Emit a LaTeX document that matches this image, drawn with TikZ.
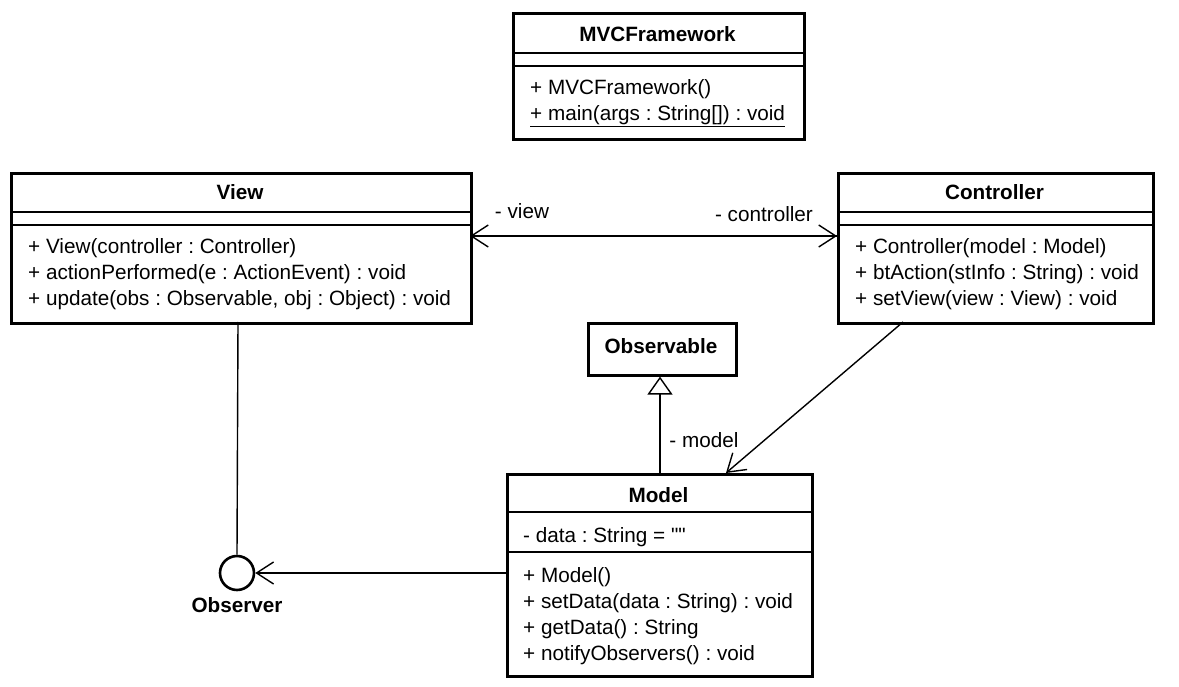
\documentclass[tikz,border=0pt]{standalone}
\usepackage{fontspec}
\setmainfont{Liberation Sans}[Ligatures=TeXOff]
\usetikzlibrary{arrows.meta}
\frenchspacing
\tikzset{
  umlbox/.style={draw, line width=2.6pt, anchor=north west, inner sep=0pt},
  sep/.style={line width=1.3pt},
  conn/.style={line width=1.4pt},
  ttl/.style={font=\fontsize{20.7}{23}\selectfont\bfseries, inner sep=0pt, anchor=base},
  mem/.style={font=\fontsize{20.7}{23}\selectfont, anchor=base west, inner sep=0pt},
  lbl/.style={font=\fontsize{20.7}{23}\selectfont, inner sep=0pt, anchor=base},
  barb/.style={-{Straight Barb[length=17pt,width=22pt,line width=1.4pt]}},
  gen/.style={-{Triangle[open,length=18pt,width=25pt,line width=1.4pt,fill=white]}}
}
\begin{document}
\begin{tikzpicture}[x=1pt,y=-1pt]
\useasboundingbox (0,0) rectangle (1179,687);

% MVCFramework
\node[umlbox, minimum width=291pt, minimum height=126pt] (mvc) at (512,12) {};
\draw[sep] (512,53) -- (803,53);
\draw[sep] (512,66) -- (803,66);
\node[ttl] (mvct) at (657.5,42) {MVCFramework};
\node[mem] (mvc1) at (530,95) {+ MVCFramework()};
\node[mem] (mvc2) at (530,121) {\underline{+ main(args : String[]) : void}};

% View
\node[umlbox, minimum width=460pt, minimum height=150pt] (view) at (10,172) {};
\draw[sep] (10,212) -- (470,212);
\draw[sep] (10,225) -- (470,225);
\node[ttl] (viewt) at (240,200) {View};
\node[mem] (view1) at (28,254) {+ View(controller : Controller)};
\node[mem] (view2) at (28,280) {+ actionPerformed(e : ActionEvent) : void};
\node[mem] (view3) at (28,306) {+ update(obs : Observable, obj : Object) : void};

% Controller
\node[umlbox, minimum width=315pt, minimum height=150pt] (ctrl) at (837,172) {};
\draw[sep] (837,212) -- (1152,212);
\draw[sep] (837,225) -- (1152,225);
\node[ttl] (ctrlt) at (994.5,200) {Controller};
\node[mem] (ctrl1) at (855,254) {+ Controller(model : Model)};
\node[mem] (ctrl2) at (855,280) {+ btAction(stInfo : String) : void};
\node[mem] (ctrl3) at (855,306) {+ setView(view : View) : void};

% Observable
\node[umlbox, minimum width=148pt, minimum height=52pt] (obs) at (587,322) {};
\node[ttl] (obst) at (661,353) {Observable};

% Model
\node[umlbox, minimum width=305pt, minimum height=202pt] (model) at (506,473) {};
\draw[sep] (506,512) -- (811,512);
\draw[sep] (506,552) -- (811,552);
\node[ttl] (modelt) at (658.5,502) {Model};
\node[mem] (model0) at (523,542) {- data : String = ""};
\node[mem] (model1) at (523,582) {+ Model()};
\node[mem] (model2) at (523,608) {+ setData(data : String) : void};
\node[mem] (model3) at (523,634) {+ getData() : String};
\node[mem] (model4) at (523,660) {+ notifyObservers() : void};

% Observer interface (lollipop)
\node[draw, circle, line width=2.6pt, minimum size=34pt, inner sep=0pt] (observer) at (237,573) {};
\node[ttl] (observerl) at (237,612) {Observer};

% Connectors
\coordinate (vA) at (470,236);
\coordinate (cA) at (837,236);
\draw[conn, barb] (cA) -- (vA);
\draw[conn, barb] (vA) -- (cA);
\node[lbl] (lview) at (522,219) {- view};
\node[lbl] (lctrl) at (764,222) {- controller};

\coordinate (vB) at (238,322);
\draw[conn] (vB) -- (observer.north);

\coordinate (mA) at (506,573);
\draw[conn, barb] (mA) -- (observer.east);

\coordinate (mG) at (660,473);
\draw[conn, gen] (mG) -- (obs.south -| mG);

\coordinate (cB) at (903,322);
\coordinate (mB) at (726,473);
\draw[conn, barb] (cB) -- (mB);
\node[lbl] (lmodel) at (704,447) {- model};
\end{tikzpicture}
\end{document}
